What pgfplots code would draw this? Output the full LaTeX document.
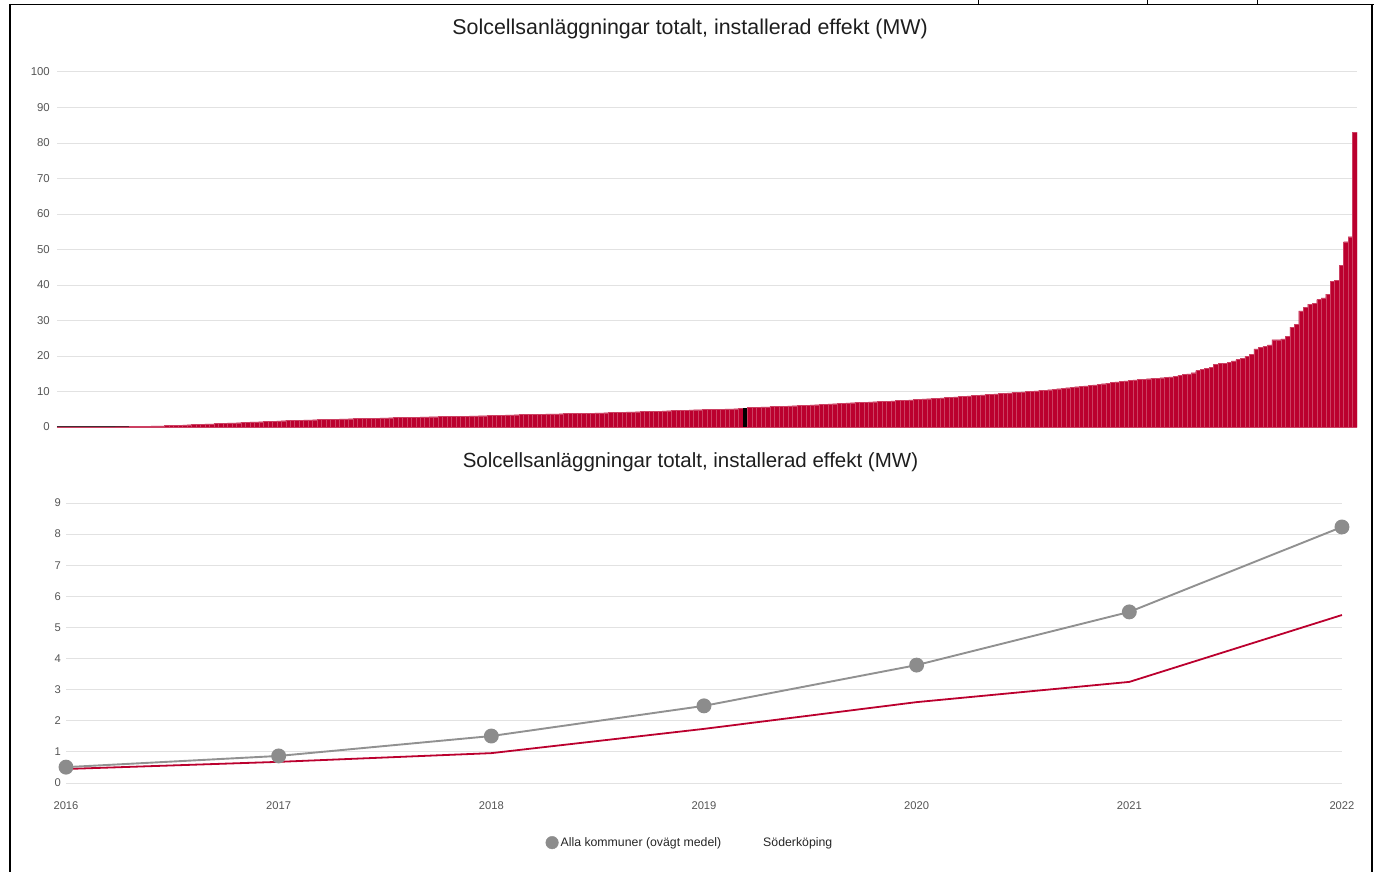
\documentclass[border=0pt]{standalone}
\usepackage{pgfplots}
\pgfplotsset{compat=1.18}
\usepackage{pgfplotstable}
\usepackage{fontspec}
\setmainfont{Liberation Sans}
\definecolor{barred}{RGB}{187,0,46}
\definecolor{gridgray}{RGB}{226,226,226}
\definecolor{tickgray}{RGB}{85,85,85}
\definecolor{markgray}{RGB}{140,140,140}
\definecolor{linegray}{RGB}{145,145,145}
\definecolor{titlegray}{RGB}{30,30,30}

\pgfplotstableread[row sep=\\]{
v\\
0.02\\ 0.02\\ 0.02\\ 0.03\\ 0.03\\ 0.03\\ 0.04\\ 0.04\\ 0.04\\ 0.05\\
0.05\\ 0.06\\ 0.07\\ 0.08\\ 0.09\\ 0.10\\ 0.13\\ 0.16\\ 0.19\\ 0.23\\
0.26\\ 0.29\\ 0.32\\ 0.35\\ 0.40\\ 0.45\\ 0.50\\ 0.55\\ 0.60\\ 0.65\\
0.70\\ 0.75\\ 0.80\\ 0.86\\ 0.91\\ 0.97\\ 1.02\\ 1.08\\ 1.13\\ 1.19\\
1.24\\ 1.30\\ 1.36\\ 1.41\\ 1.47\\ 1.52\\ 1.58\\ 1.63\\ 1.69\\ 1.74\\
1.80\\ 1.84\\ 1.87\\ 1.91\\ 1.95\\ 1.98\\ 2.02\\ 2.05\\ 2.09\\ 2.13\\
2.16\\ 2.20\\ 2.23\\ 2.27\\ 2.30\\ 2.33\\ 2.37\\ 2.40\\ 2.43\\ 2.47\\
2.50\\ 2.53\\ 2.57\\ 2.60\\ 2.63\\ 2.66\\ 2.69\\ 2.72\\ 2.75\\ 2.78\\
2.81\\ 2.84\\ 2.87\\ 2.90\\ 2.92\\ 2.94\\ 2.97\\ 2.99\\ 3.01\\ 3.03\\
3.06\\ 3.08\\ 3.10\\ 3.14\\ 3.17\\ 3.21\\ 3.25\\ 3.28\\ 3.32\\ 3.35\\
3.39\\ 3.43\\ 3.46\\ 3.50\\ 3.53\\ 3.56\\ 3.58\\ 3.61\\ 3.64\\ 3.67\\
3.69\\ 3.72\\ 3.75\\ 3.78\\ 3.81\\ 3.83\\ 3.86\\ 3.89\\ 3.92\\ 3.94\\
3.97\\ 4.00\\ 4.04\\ 4.08\\ 4.12\\ 4.15\\ 4.19\\ 4.23\\ 4.27\\ 4.31\\
4.35\\ 4.38\\ 4.42\\ 4.46\\ 4.50\\ 4.54\\ 4.59\\ 4.63\\ 4.68\\ 4.72\\
4.77\\ 4.81\\ 4.86\\ 4.90\\ 4.93\\ 4.97\\ 5.00\\ 5.03\\ 5.07\\ 5.10\\
5.13\\ 5.17\\ 5.20\\ 5.35\\ 5.50\\ 5.55\\ 5.60\\ 5.65\\ 5.70\\ 5.75\\
5.80\\ 5.85\\ 5.90\\ 5.95\\ 6.00\\ 6.05\\ 6.10\\ 6.17\\ 6.24\\ 6.30\\
6.37\\ 6.44\\ 6.51\\ 6.58\\ 6.65\\ 6.71\\ 6.78\\ 6.85\\ 6.91\\ 6.97\\
7.03\\ 7.09\\ 7.15\\ 7.20\\ 7.26\\ 7.32\\ 7.38\\ 7.44\\ 7.50\\ 7.58\\
7.66\\ 7.73\\ 7.81\\ 7.89\\ 7.97\\ 8.04\\ 8.12\\ 8.20\\ 8.29\\ 8.39\\
8.48\\ 8.57\\ 8.66\\ 8.76\\ 8.85\\ 8.94\\ 9.04\\ 9.13\\ 9.22\\ 9.31\\
9.41\\ 9.50\\ 9.60\\ 9.70\\ 9.80\\ 9.90\\ 10.00\\ 10.10\\ 10.20\\ 10.30\\
10.40\\ 10.50\\ 10.64\\ 10.78\\ 10.92\\ 11.06\\ 11.20\\ 11.34\\ 11.48\\ 11.62\\
11.76\\ 11.90\\ 12.06\\ 12.21\\ 12.37\\ 12.52\\ 12.68\\ 12.83\\ 12.99\\ 13.14\\
13.30\\ 13.40\\ 13.50\\ 13.60\\ 13.70\\ 13.80\\ 13.90\\ 14.00\\ 14.10\\ 14.30\\
14.50\\ 14.80\\ 15.00\\ 15.30\\ 15.90\\ 16.30\\ 16.50\\ 16.80\\ 17.60\\ 17.90\\
18.00\\ 18.30\\ 18.60\\ 19.00\\ 19.40\\ 19.90\\ 20.40\\ 22.00\\ 22.50\\ 22.70\\
23.10\\ 24.60\\ 24.60\\ 24.80\\ 25.50\\ 28.10\\ 28.90\\ 32.70\\ 33.70\\ 34.60\\
34.80\\ 35.90\\ 36.40\\ 37.40\\ 41.10\\ 41.30\\ 45.60\\ 52.20\\ 53.60\\ 83.00\\
}\barsdata

\begin{document}
\begin{tikzpicture}
\path[use as bounding box] (0pt,0pt) rectangle (1374pt,-872pt);
% page frame
\draw[black, line width=2pt] (10pt,-4pt) -- (10pt,-872pt);
\draw[black, line width=2pt] (1372pt,-4pt) -- (1372pt,-872pt);
\draw[black, line width=1.5pt] (10pt,-4.5pt) -- (1374pt,-4.5pt);
\draw[black, line width=1pt] (978pt,0pt) -- (978pt,-4pt);
\draw[black, line width=1pt] (1147pt,0pt) -- (1147pt,-4pt);
\draw[black, line width=1pt] (1257pt,0pt) -- (1257pt,-4pt);

% ---------- top: bar chart ----------
\begin{axis}[
  at={(57pt,-427pt)}, anchor=south west,
  scale only axis, width=1300pt, height=355pt,
  xmin=-0.5, xmax=289.5, ymin=0, ymax=100,
  xtick=\empty,
  ytick={10,20,...,100},
  extra y ticks={0},
  extra y tick style={grid style={draw=black!80, line width=1.3pt}},
  ymajorgrids, grid style={draw=gridgray, line width=1pt},
  axis line style={draw=none},
  major tick length=0pt,
  /pgf/number format/assume math mode=true,
  yticklabel style={font=\fontsize{11.4}{13}\selectfont, text=tickgray, anchor=east, inner sep=0pt, xshift=-7pt},
  title={Solcellsanläggningar totalt, installerad effekt (MW)},
  title style={font=\fontsize{21.4}{25}\selectfont, text=titlegray, at={(0.487,1)}, anchor=center, yshift=37pt},
]
\addplot[ybar, bar shift=0pt, bar width=1, fill=barred, draw=barred!75!white, line width=0.2pt]
  table[x expr=\coordindex, y=v] {\barsdata};
\addplot[ybar, bar shift=0pt, bar width=1, fill=black, draw=none]
  coordinates {(153,5.35)};
\end{axis}

% ---------- bottom: line chart ----------
\begin{axis}[
  at={(66pt,-783pt)}, anchor=south west,
  scale only axis, width=1276pt, height=280pt,
  xmin=2016, xmax=2022, ymin=0, ymax=9,
  xtick={2016,2017,2018,2019,2020,2021,2022},
  xticklabels={2016,2017,2018,2019,2020,2021,2022},
  ytick={0,1,...,9},
  ymajorgrids, grid style={draw=gridgray, line width=1pt},
  axis line style={draw=none},
  major tick length=0pt,
  clip=false,
  /pgf/number format/assume math mode=true,
  yticklabel style={font=\fontsize{11.2}{13}\selectfont, text=tickgray, anchor=east, inner sep=0pt, xshift=-5pt},
  xticklabel style={font=\fontsize{11.2}{13}\selectfont, text=tickgray, anchor=center, inner sep=0pt, yshift=-23pt},
  title={Solcellsanläggningar totalt, installerad effekt (MW)},
  title style={font=\fontsize{20.5}{24}\selectfont, text=titlegray, at={(0.4894,1)}, anchor=center, yshift=35pt},
  legend columns=2,
  legend style={at={(0.4890,-0.213)}, anchor=center, draw=none, fill=none,
    font=\fontsize{12.3}{14}\selectfont, text=black!85,
    /tikz/every even column/.append style={column sep=38pt}},
]
\addplot[forget plot, color=barred, line width=1.8pt]
  coordinates {(2016,0.45) (2017,0.68) (2018,0.96) (2019,1.74) (2020,2.60) (2021,3.25) (2022,5.40)};
\addplot[forget plot, color=linegray, line width=1.9pt, mark=*, mark size=6.5pt,
  mark options={fill=markgray, draw=markgray}]
  coordinates {(2016,0.51) (2017,0.87) (2018,1.51) (2019,2.48) (2020,3.79) (2021,5.50) (2022,8.23)};
\addlegendimage{legend image code/.code={\fill[markgray] (0pt,0pt) circle (6.3pt);}}
\addlegendentry{Alla kommuner (ovägt medel)}
\addlegendimage{empty legend}
\addlegendentry{Söderköping}
\end{axis}
\end{tikzpicture}
\end{document}
